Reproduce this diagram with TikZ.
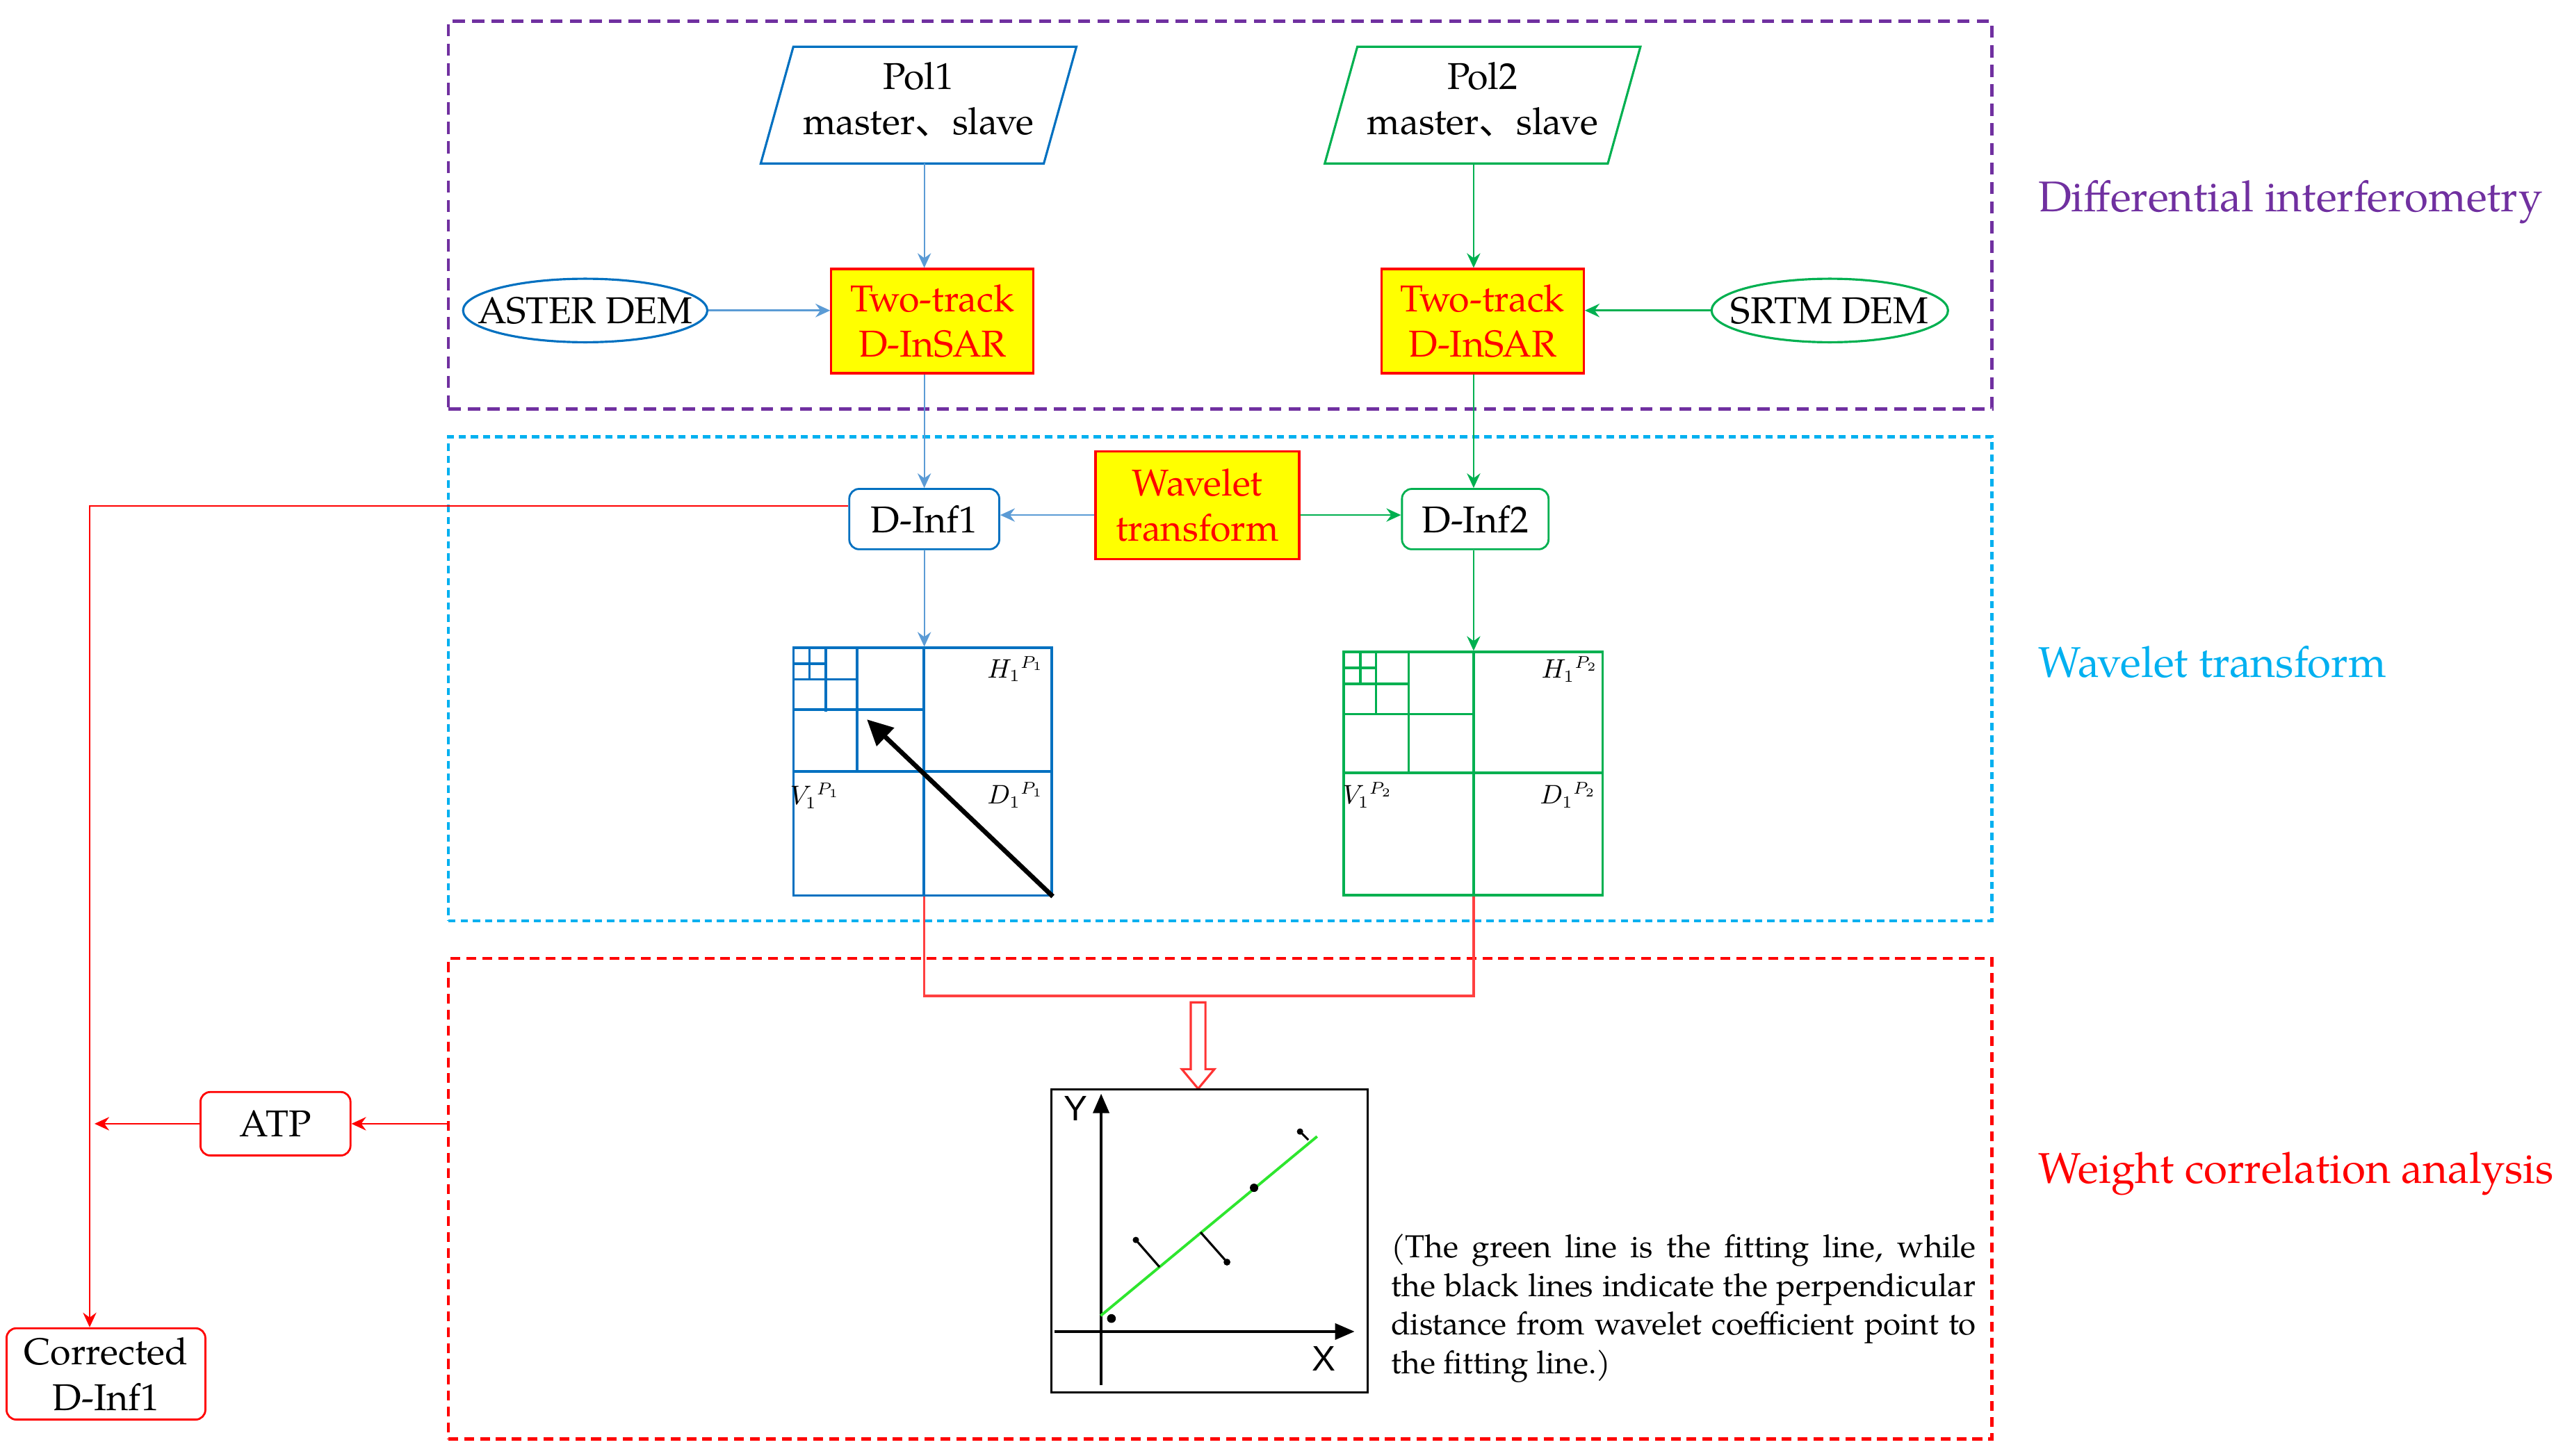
\documentclass[tikz,border=0pt]{standalone}
\usepackage{fontspec}
\setmainfont{TeX Gyre Pagella}
\newfontfamily\cjkf{Noto Sans CJK SC}
\newfontfamily\arialf{Liberation Sans}
\usetikzlibrary{arrows.meta,calc,shapes.geometric}
\definecolor{cpurple}{HTML}{7030A0}
\definecolor{ccyan}{HTML}{00B0F0}
\definecolor{cred}{HTML}{FF0000}
\definecolor{cblue}{HTML}{0070C0}
\definecolor{clblue}{HTML}{5B9BD5}
\definecolor{cgreen}{HTML}{00B050}
\definecolor{cyel}{HTML}{FFFF00}
\definecolor{cfit}{HTML}{2EE62E}
\begin{document}
\begin{tikzpicture}[x=0.6674pt,y=-0.6674pt,
  txt/.style={font=\fontsize{15.3}{18.7}\selectfont, align=center},
  yelbox/.style={txt, draw=cred, fill=cyel, text=cred, line width=0.9pt, minimum width=82.8pt, minimum height=42.7pt, inner sep=1pt},
  rbox/.style={txt, draw, rounded corners=4pt, line width=0.8pt, inner sep=1pt},
  grpframe/.style={draw, line width=1.3pt, minimum width=632pt, inner sep=0pt},
  conn/.style={line width=0.6pt, -{Stealth[length=6pt,width=5.5pt,inset=2pt]}},
  ell/.style={ellipse, line width=0.9pt, minimum height=26pt, inner sep=0pt, font=\fontsize{15.3}{18.7}\selectfont},
  grid/.style={line width=0.9pt},
  sidelab/.style={anchor=west, inner sep=0pt, font=\fontsize{17.6}{20}\selectfont},
  coef/.style={inner sep=0pt, font=\fontsize{10.5}{12}\selectfont}
]
\useasboundingbox (0,0) rectangle (1568,893);

% group frames
\node[grpframe, draw=cpurple, dash pattern=on 5pt off 3pt, minimum height=158.8pt] (fD) at (748.5,132) {};
\node[grpframe, draw=ccyan, dash pattern=on 3pt off 2pt, minimum height=198.2pt] (fW) at (748.5,416.5) {};
\node[grpframe, draw=cred, dash pattern=on 4pt off 2.5pt, minimum height=196.9pt] (fC) at (748.5,735.5) {};

% side labels
\node[sidelab, text=cpurple] (lD) at (1250,124) {Differential interferometry};
\node[sidelab, text=ccyan] (lW) at (1250,406) {Wavelet transform};
\node[sidelab, text=cred] (lC) at (1250,720) {Weight correlation analysis};

% column coordinates
\coordinate (c1) at (567,0);
\coordinate (c2) at (904,0);
\coordinate (lx) at (55,0);

% inputs (text node centred slightly above the outline centre)
\node[txt, minimum width=115.5pt, minimum height=47.4pt, inner sep=0pt] (pol1) at (563.5,61) {Pol1\\master{\cjkf 、}slave};
\draw[cblue, line width=0.9pt] ($(pol1.north west)+(10,3.5)$) -- ($(pol1.north east)+(10,3.5)$) -- ($(pol1.south east)+(-10,3.5)$) -- ($(pol1.south west)+(-10,3.5)$) -- cycle;
\node[txt, minimum width=115.5pt, minimum height=47.4pt, inner sep=0pt] (pol2) at (909.5,61) {Pol2\\master{\cjkf 、}slave};
\draw[cgreen, line width=0.9pt] ($(pol2.north west)+(10,3.5)$) -- ($(pol2.north east)+(10,3.5)$) -- ($(pol2.south east)+(-10,3.5)$) -- ($(pol2.south west)+(-10,3.5)$) -- cycle;

\node[yelbox] (tt1) at (572,197) {Two-track\\D-InSAR};
\node[yelbox] (tt2) at (909.5,197) {Two-track\\D-InSAR};

\node[ell, draw=cblue, minimum width=100pt] (aster) at (359,190.5) {\makebox[0pt]{ASTER DEM}};
\node[ell, draw=cgreen, minimum width=96.8pt] (srtm) at (1122.5,190.5) {\makebox[0pt]{SRTM DEM}};

% wavelet section
\node[yelbox, minimum width=83.4pt, minimum height=44pt] (wt) at (734.5,310) {Wavelet\\transform};
\node[rbox, draw=cblue, minimum width=61.4pt, minimum height=24.7pt] (d1) at (567,318.5) {D-Inf1};
\node[rbox, draw=cgreen, minimum width=60pt, minimum height=24.7pt] (d2) at (905,318.5) {D-Inf2};

% grid 1
\node[draw=cblue, grid, minimum width=105.85pt, minimum height=101.4pt, inner sep=0pt] (g1) at (565.9,473.4) {};
\draw[cblue, grid] (566.7,397.4) -- (566.7,549.4) (486.6,473.3) -- (645.2,473.3)
  (525.8,397.4) -- (525.8,473.3) (486.6,435.4) -- (566.7,435.4)
  (506.6,397.4) -- (506.6,436.5) (486.6,417) -- (525.8,417)
  (496.4,397.4) -- (496.4,417) (486.6,407.2) -- (506.6,407.2);
\draw[line width=1.9pt, -{Triangle[length=10.5pt,width=10pt]}] (g1.south east) -- (531.8,441.4);
\node[coef] (h1) at (623,410.5) {$H_1{}^{P_1}$};
\node[coef] (v1) at (500,488.3) {$V_1{}^{P_1}$};
\node[coef] (dd1) at (623,488) {$D_1{}^{P_1}$};

% grid 2
\node[draw=cgreen, grid, minimum width=105.9pt, minimum height=99.6pt, inner sep=0pt] (g2) at (903.65,474.6) {};
\draw[cgreen, grid] (904,400) -- (904,549.2) (824.3,474.2) -- (983,474.2)
  (864,400) -- (864,474.2) (824.3,438) -- (904,438)
  (844,400) -- (844,438) (824.3,419.6) -- (864,419.6)
  (834.5,400) -- (834.5,419.6) (824.3,409.8) -- (844,409.8);
\node[coef] (h2) at (963,410.7) {$H_1{}^{P_2}$};
\node[coef] (v2) at (839,488) {$V_1{}^{P_2}$};
\node[coef] (dd2) at (962,488) {$D_1{}^{P_2}$};

% connectors (top)
\draw[conn, clblue] ($(pol1.south -| c1)+(0,3.5)$) -- (tt1.north -| c1);
\draw[conn, cgreen] ($(pol2.south -| c2)+(0,3.5)$) -- (tt2.north -| c2);
\draw[conn, clblue, line width=0.9pt] (aster.east) -- (aster.east -| tt1.west);
\draw[conn, cgreen, line width=0.9pt] (srtm.west) -- (srtm.west -| tt2.east);
\draw[conn, clblue] (tt1.south -| c1) -- (d1.north);
\draw[conn, cgreen] (tt2.south -| c2) -- (d2.north -| c2);
\draw[conn, clblue] (wt.west |- 0,316) -- (d1.east |- 0,316);
\draw[conn, cgreen] (wt.east |- 0,316) -- (d2.west |- 0,316);
\draw[conn, clblue] (d1.south) -- (d1.south |- g1.north);
\draw[conn, cgreen] (d2.south -| c2) -- (g2.north -| c2);

% merge to correlation
\draw[cred!75, line width=1pt] (g1.south -| c1) -- (c1 |- 0,611) -| (g2.south -| c2);
\draw[cred!80, line width=0.9pt, fill=white] (730.5,615) -- (739.5,615) -- (739.5,656) -- (745,656) -- (735,668) -- (725,656) -- (730.5,656) -- cycle;

% scatter plot
\node[draw, line width=1pt, minimum width=129.5pt, minimum height=124.1pt, inner sep=0pt] (plot) at (742,761.4) {};
\draw[line width=1.3pt, -{Triangle[length=8pt,width=6.5pt]}] (675.5,850) -- (675.5,671);
\draw[line width=1.3pt, -{Triangle[length=8pt,width=6.5pt]}] (647,817) -- (831,817);
\node[font={\arialf\fontsize{14.5}{16}\selectfont}, inner sep=0pt] (ylab) at (660,680) {Y};
\node[font={\arialf\fontsize{14.5}{16}\selectfont}, inner sep=0pt] (xlab) at (812,833.7) {X};
\draw[cfit, line width=1.1pt] (675.2,807.3) -- (808,697.3);
\fill (681.8,809) circle (1.8pt);
\fill (769.3,728.8) circle (1.7pt);
\draw[line width=0.9pt] (696.8,760.8) -- (711.3,777.4);
\fill (696.8,760.8) circle (1.3pt);
\draw[line width=0.9pt] (752.7,774.4) -- (736.5,756.1);
\fill (752.7,774.4) circle (1.4pt);
\draw[line width=0.9pt] (797.5,694.3) -- (802.6,699.4);
\fill (797.5,694.3) circle (1.3pt);

\node[anchor=north west, inner sep=0pt, text width=239.6pt, align=justify, font=\fontsize{13}{15.8}\selectfont] (cap) at (853,757)
  {\hyphenpenalty10000 (The green line is the fitting line, while\linebreak the black lines indicate the perpendicular\linebreak distance from wavelet coefficient point to\linebreak the fitting line.)};

% left side
\node[rbox, draw=cred, minimum width=61.4pt, minimum height=26pt] (atp) at (169,689.5) {ATP};
\node[rbox, draw=cred, minimum width=81.4pt, minimum height=37.4pt] (corr) at (65,843) {Corrected\\D-Inf1};
\draw[conn, cred] ($(d1.west)+(0,-8)$) -| (lx |- corr.north);
\draw[conn, cred] (atp.east -| fC.west) -- (atp.east);
\draw[conn, cred] (atp.west) -- ($(atp.west -| lx)+(3,0)$);
\end{tikzpicture}
\end{document}
